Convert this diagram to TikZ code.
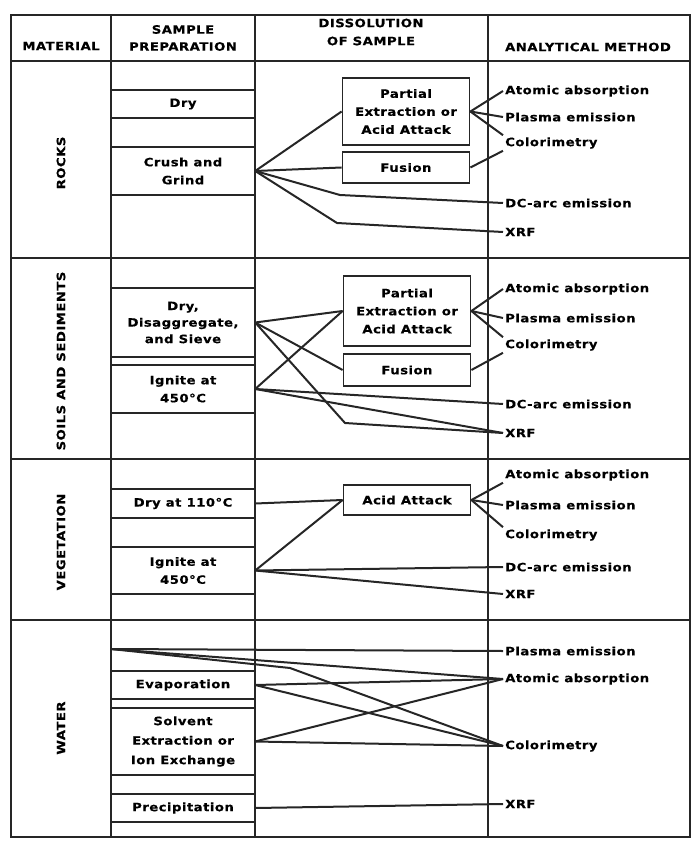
\documentclass[tikz,border=0pt]{standalone}
\usepackage{fontspec}
\setmainfont{DejaVu Sans}[FakeStretch=1.15, LetterSpace=4, BoldFeatures={FakeBold=0.4}]
\usepackage{tikz}

\begin{document}
\begin{tikzpicture}[x=1pt, y=-1pt]

% Define line, box and lettering styles
\tikzstyle{tableline} = [draw=black!85, line width=1.6pt]
\tikzstyle{prepline} = [draw=black!85, line width=2.4pt]
\tikzstyle{link} = [draw=black!85, line width=2pt, line join=round]
\tikzstyle{lettering} = [font=\bfseries\fontsize{11.5}{18}\selectfont, text=black]
\tikzstyle{headtext} = [lettering, align=center, inner sep=0pt]
\tikzstyle{matlabel} = [lettering, rotate=90, inner sep=0pt]
\tikzstyle{prepbox} = [lettering, align=center, inner sep=0pt, minimum width=144pt]
\tikzstyle{dissbox} = [lettering, draw=black!85, line width=1.8pt, align=center,
    minimum width=127pt, inner sep=2pt]
\tikzstyle{method} = [lettering, anchor=west, inner sep=2pt, minimum height=13pt]

\useasboundingbox (0,0) rectangle (692,842);

% Table frame
\draw[tableline] (11,15) rectangle (690,837);
\foreach \y in {61,258,459,620}
    \draw[tableline] (11,\y) -- (690,\y);
\foreach \x in {111,255,488}
    \draw[tableline] (\x,15) -- (\x,837);

% Header
\node[headtext] (hmat) at (61,46) {MATERIAL};
\node[headtext, font=\bfseries\fontsize{11.5}{17}\selectfont] (hprep) at (183,38) {SAMPLE\\PREPARATION};
\node[headtext, font=\bfseries\fontsize{11.5}{18}\selectfont] (hdiss) at (371,32) {DISSOLUTION\\OF SAMPLE};
\node[headtext] (hmeth) at (588,47) {ANALYTICAL METHOD};

% Material
\node[matlabel] (mrocks) at (61,163) {ROCKS};
\node[matlabel] (msoils) at (61,361) {SOILS AND SEDIMENTS};
\node[matlabel] (mveg) at (61,542) {VEGETATION};
\node[matlabel] (mwater) at (61,728) {WATER};

% Sample preparation
\node[prepbox, minimum height=28pt] (rdry) at (183,104) {Dry};
\node[prepbox, minimum height=48pt] (rcrush) at (183,171) {Crush and\\Grind};
\node[prepbox, minimum height=69pt, font=\bfseries\fontsize{11.5}{16.5}\selectfont] (sdry) at (183,322.5) {Dry,\\Disaggregate,\\and Sieve};
\node[prepbox, minimum height=48pt] (signite) at (183,389) {Ignite at\\450°C};
\node[prepbox, minimum height=29pt] (vdry) at (183,503.5) {Dry at 110°C};
\node[prepbox, minimum height=47pt] (vignite) at (183,570.5) {Ignite at\\450°C};
\node[prepbox, minimum height=28pt] (wevap) at (183,685) {Evaporation};
\node[prepbox, minimum height=67pt, font=\bfseries\fontsize{11.5}{19.5}\selectfont] (wsolv) at (183,741.5) {Solvent\\Extraction or\\Ion Exchange};
\node[prepbox, minimum height=28pt] (wprec) at (183,808) {Precipitation};
\coordinate (wtop) at (111,649);

\foreach \n in {rdry,rcrush,sdry,signite,vdry,vignite,wevap,wsolv,wprec}
    \draw[prepline] (\n.north west) -- (\n.north east) (\n.south west) -- (\n.south east);

% Dissolution of sample
\node[dissbox, minimum height=67pt] (rpart) at (406,111.5) {Partial\\Extraction or\\Acid Attack};
\node[dissbox, minimum height=31pt] (rfus) at (406,167.5) {Fusion};
\node[dissbox, minimum height=70pt] (spart) at (407,311) {Partial\\Extraction or\\Acid Attack};
\node[dissbox, minimum height=32pt] (sfus) at (407,370) {Fusion};
\node[dissbox, minimum height=30pt] (vacid) at (407,500) {Acid Attack};

% Analytical method
\node[method] (raa) at (503,91) {Atomic absorption};
\node[method] (rpe) at (503,117) {Plasma emission};
\node[method] (rcol) at (503,143) {Colorimetry};
\node[method] (rdc) at (503,203) {DC-arc emission};
\node[method] (rxrf) at (503,232) {XRF};
\node[method] (saa) at (503,289) {Atomic absorption};
\node[method] (spe) at (503,318) {Plasma emission};
\node[method] (scol) at (503,345) {Colorimetry};
\node[method] (sdc) at (503,404) {DC-arc emission};
\node[method] (sxrf) at (503,433) {XRF};
\node[method] (vaa) at (503,475) {Atomic absorption};
\node[method] (vpe) at (503,505) {Plasma emission};
\node[method] (vcol) at (503,535) {Colorimetry};
\node[method] (vdc) at (503,567) {DC-arc emission};
\node[method] (vxrf) at (503,594) {XRF};
\node[method] (wpe) at (503,651) {Plasma emission};
\node[method] (waa) at (503,679) {Atomic absorption};
\node[method] (wcol) at (503,746) {Colorimetry};
\node[method] (wxrf) at (503,804) {XRF};

% Bends
\coordinate (rbenda) at (340,195);
\coordinate (rbendb) at (337,223);
\coordinate (sbend) at (345,423);
\coordinate (wbend) at (290,668);

% Rocks
\draw[link] (rcrush.east) -- (rpart.west);
\draw[link] (rcrush.east) -- (rfus.west);
\draw[link] (rcrush.east) -- (rbenda) -- (rdc.west);
\draw[link] (rcrush.east) -- (rbendb) -- (rxrf.west);
\foreach \m in {raa.west,rpe.west,rcol.north west}
    \draw[link] (rpart.east) -- (\m);
\draw[link] (rfus.east) -- (rcol.south west);

% Soils and sediments
\draw[link] (sdry.east) -- (spart.west);
\draw[link] (sdry.east) -- (sfus.west);
\draw[link] (sdry.east) -- (sbend) -- (sxrf.west);
\draw[link] (signite.east) -- (spart.west);
\draw[link] (signite.east) -- (sdc.west);
\draw[link] (signite.east) -- (sxrf.west);
\foreach \m in {saa.west,spe.west,scol.north west}
    \draw[link] (spart.east) -- (\m);
\draw[link] (sfus.east) -- (scol.south west);

% Vegetation
\draw[link] (vdry.east) -- (vacid.west);
\draw[link] (vignite.east) -- (vacid.west);
\draw[link] (vignite.east) -- (vdc.west);
\draw[link] (vignite.east) -- (vxrf.west);
\foreach \m in {vaa.south west,vpe.west,vcol.north west}
    \draw[link] (vacid.east) -- (\m);

% Water
\draw[link] (wtop) -- (wpe.west);
\draw[link] (wtop) -- (waa.west);
\draw[link] (wtop) -- (wbend) -- (wcol.west);
\draw[link] (wevap.east) -- (waa.west);
\draw[link] (wevap.east) -- (wcol.west);
\draw[link] (wsolv.east) -- (waa.west);
\draw[link] (wsolv.east) -- (wcol.west);
\draw[link] (wprec.east) -- (wxrf.west);

\end{tikzpicture}
\end{document}
